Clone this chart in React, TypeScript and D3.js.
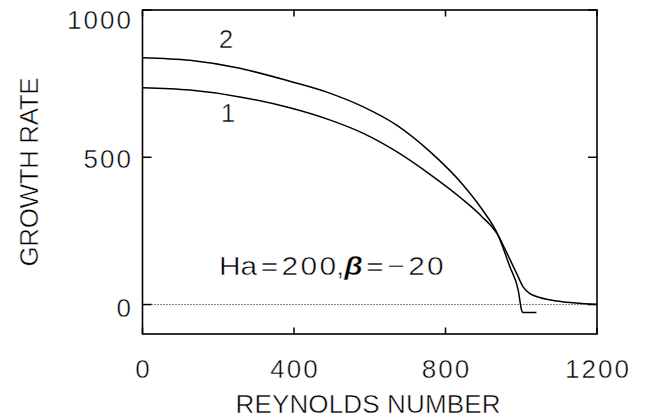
import { useMemo } from "react";
import * as d3 from "d3";

// Growth rate vs Reynolds number
const curve1Re = [0, 125, 257, 389, 496, 583, 671, 759, 847, 895, 939, 961, 988, 1005, 1023, 1049, 1093, 1137, 1181, 1200];
const curve1Rate = [736, 728, 705, 668, 626, 581, 519, 442, 355, 300, 235, 178, 105, 60, 37, 24, 12, 6, 2, 1];

const curve2Re = [0, 125, 257, 389, 496, 583, 671, 759, 847, 895, 939, 970, 992, 1001, 1005, 1040];
const curve2Rate = [838, 829, 802, 758, 717, 671, 609, 519, 405, 326, 235, 128, 49, -19, -27, -27];

const xTicks = [0, 400, 800, 1200];
const yTicks = [0, 500, 1000];
// label baselines offset from tick (IDL-style placement in the source)
const yLabelDy = [12, 11, 19];

const W = 660;
const H = 418;
const margin = { left: 142.5, right: 63, top: 10, bottom: 84 };
const font = "'Liberation Sans', Arial, sans-serif";

const App = () => {
  const x = d3.scaleLinear().domain([0, 1200]).range([margin.left, W - margin.right]);
  const y = d3.scaleLinear().domain([-100, 1000]).range([H - margin.bottom, margin.top]);

  const line = d3
    .line<[number, number]>()
    .x((d) => x(d[0]))
    .y((d) => y(d[1]))
    .curve(d3.curveMonotoneX);

  const path1 = useMemo(() => line(curve1Re.map((r, i) => [r, curve1Rate[i]])), []);
  const path2 = useMemo(() => line(curve2Re.map((r, i) => [r, curve2Rate[i]])), []);

  const [x0, x1] = x.range();
  const [y0, y1] = y.range();
  const xTickLen = 6.5;
  const yTickLen = 9;

  const textStyle = {
    fontFamily: font,
    fontSize: 26,
    fill: "#000",
    stroke: "#fff",
    strokeWidth: 0.5,
    paintOrder: "normal",
  } as const;

  const numLen = (t: number) => {
    const n = String(t).length;
    return n > 1 ? n * 16.5 - 2 : undefined;
  };

  return (
    <svg width={W} height={H} style={{ position: "absolute", left: 0, top: 0, background: "#fff" }}>
      <rect width={W} height={H} fill="#fff" />
      {/* zero line */}
      <line x1={x0} x2={x1} y1={y(0)} y2={y(0)} stroke="#000" strokeWidth={1} strokeDasharray="1 2" />

      {/* curves */}
      <path d={path1 ?? ""} fill="none" stroke="#000" strokeWidth={1.5} />
      <path d={path2 ?? ""} fill="none" stroke="#000" strokeWidth={1.5} />

      {/* frame */}
      <rect x={x0} y={y1} width={x1 - x0} height={y0 - y1} fill="none" stroke="#000" strokeWidth={1.6} />

      {/* x ticks, bottom and top */}
      {xTicks.map((t) => (
        <g key={"x" + t}>
          <line x1={x(t)} x2={x(t)} y1={y0} y2={y0 - xTickLen} stroke="#000" strokeWidth={1.5} />
          <line x1={x(t)} x2={x(t)} y1={y1} y2={y1 + xTickLen} stroke="#000" strokeWidth={1.5} />
          <text x={x(t)} y={378} textAnchor="middle" textLength={numLen(t)} style={textStyle}>
            {t}
          </text>
        </g>
      ))}

      {/* y ticks, left and right */}
      {yTicks.map((t, i) => (
        <g key={"y" + t}>
          <line x1={x0} x2={x0 + yTickLen} y1={y(t)} y2={y(t)} stroke="#000" strokeWidth={1.5} />
          <line x1={x1} x2={x1 - yTickLen} y1={y(t)} y2={y(t)} stroke="#000" strokeWidth={1.5} />
          <text x={131} y={y(t) + yLabelDy[i]} textAnchor="end" textLength={numLen(t)} style={textStyle}>
            {t}
          </text>
        </g>
      ))}

      {/* axis titles */}
      <text x={368} y={413} textAnchor="middle" textLength={265} style={textStyle}>
        REYNOLDS NUMBER
      </text>
      <text
        transform={`translate(37.5,172) rotate(-90)`}
        textAnchor="middle"
        textLength={189}
        style={textStyle}
      >
        GROWTH RATE
      </text>

      {/* curve labels */}
      <text x={226} y={48} textAnchor="middle" style={textStyle}>
        2
      </text>
      <text x={228} y={122} textAnchor="middle" style={textStyle}>
        1
      </text>

      {/* annotation */}
      <text transform="translate(219,275) scale(1.15,1)" style={textStyle}>
        <tspan>Ha</tspan>
        <tspan dx={3}>=</tspan>
        <tspan dx={3}>2</tspan>
        <tspan dx={2}>0</tspan>
        <tspan dx={2}>0,</tspan>
        <tspan fontStyle="italic" fontWeight="bold">β</tspan>
        <tspan dx={3}>=</tspan>
        <tspan dx={3}>−</tspan>
        <tspan dx={3}>2</tspan>
        <tspan dx={2}>0</tspan>
      </text>
    </svg>
  );
};

export default App;
